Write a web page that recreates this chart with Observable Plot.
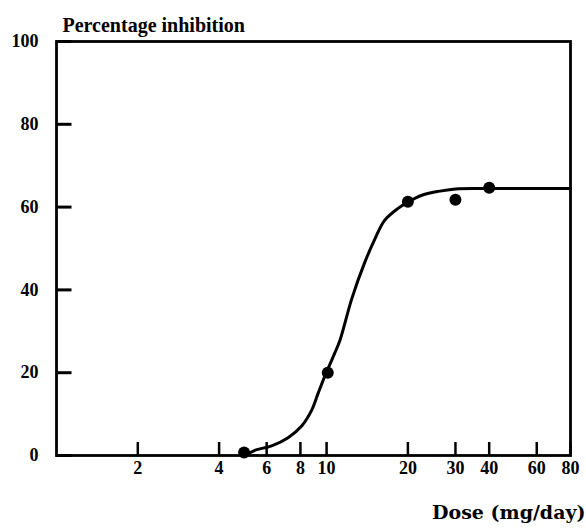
<!DOCTYPE html>
<html>
<head>
<meta charset="utf-8">
<script src="https://cdn.jsdelivr.net/npm/d3@7"></script>
<script src="https://cdn.jsdelivr.net/npm/@observablehq/plot@0.6"></script>
<style>
  html, body { margin: 0; padding: 0; background: #fff; }
  #chart svg { display: block; }
</style>
</head>
<body>
<div id="chart"></div>
<script>
// Observed points
const doses = [4.95, 10.1, 20, 30, 40];
const inhibition = [0.7, 20, 61.3, 61.8, 64.7];

// Fitted curve
const curveDose = [5, 5.4, 6.3, 7.2, 8.1, 8.8, 9.3, 9.8, 10.7, 11.2, 12.4, 13.8, 15, 16.4, 18.4, 20, 22.4, 25.9, 30, 40, 80];
const curveInhib = [0, 1.2, 2.4, 4.3, 7.2, 10.9, 15, 18.8, 24.6, 27.8, 37.9, 46.4, 51.9, 56.8, 59.7, 61.2, 62.8, 63.8, 64.4, 64.5, 64.5];

// Axis ticks
const xTicks = [2, 4, 6, 8, 10, 20, 30, 40, 60, 80];
const yTicks = [0, 20, 40, 60, 80, 100];

const yTitle = "Percentage inhibition";
const xTitle = "Dose (mg/day)";

const points = doses.map((d, i) => ({dose: d, value: inhibition[i]}));
const curve = curveDose.map((d, i) => ({dose: d, value: curveInhib[i]}));

const W = 586, H = 530;
const mL = 56, mR = 16, mT = 41, mB = 75;
const innerW = W - mL - mR, innerH = H - mT - mB;
const xDomain = [1, 80];
const xTickLen = 13, yTickLen = 15;
// dose value lying yTickLen pixels right of the left frame edge (log scale)
const yTickEnd = Math.pow(10, Math.log10(xDomain[0]) + (yTickLen / innerW) * (Math.log10(xDomain[1]) - Math.log10(xDomain[0])));

const font = "'Liberation Serif', 'DejaVu Serif', serif";

const chart = Plot.plot({
  width: W,
  height: H,
  marginLeft: mL,
  marginRight: mR,
  marginTop: mT,
  marginBottom: mB,
  style: {fontFamily: font, fontWeight: "bold", fontSize: "18px", color: "#000", background: "#fff"},
  x: {type: "log", domain: xDomain, axis: null},
  y: {domain: [0, 100], axis: null},
  marks: [
    Plot.frame({strokeWidth: 2.8}),
    // inward tick marks
    Plot.tickX(xTicks, {x: d => d, insetTop: innerH - xTickLen, strokeWidth: 2.5}),
    Plot.link(yTicks, {x1: () => xDomain[0], x2: () => yTickEnd, y1: d => d, y2: d => d, stroke: "#000", strokeWidth: 3}),
    // tick labels
    Plot.text(yTicks, {y: d => d, text: d => String(d), frameAnchor: "left", textAnchor: "end", dx: -18, fontSize: 18, fontWeight: "bold"}),
    Plot.text(xTicks, {x: d => d, text: d => String(d), frameAnchor: "bottom", dy: 18, fontSize: 18, fontWeight: "bold"}),
    Plot.line(curve, {x: "dose", y: "value", curve: "catmull-rom", strokeWidth: 3}),
    Plot.dot(points, {x: "dose", y: "value", r: 6, fill: "#000", stroke: "none"}),
    Plot.text([yTitle], {frameAnchor: "top-left", text: d => d, textAnchor: "start", dx: 6, dy: -24, fontSize: 20, fontWeight: "bold"}),
    Plot.text([xTitle], {frameAnchor: "bottom-right", text: d => d, textAnchor: "end", dx: 15, dy: 63, fontSize: 19, fontWeight: "bold", fontFamily: "'DejaVu Serif', serif"})
  ]
});

document.getElementById("chart").appendChild(chart);
</script>
</body>
</html>
